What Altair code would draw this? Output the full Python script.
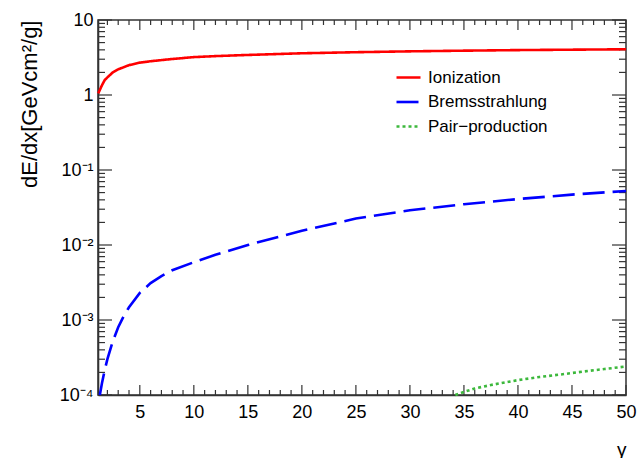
import altair as alt
import pandas as pd

# ---- data ----
ion_gamma = [1.15, 1.3, 1.5, 1.75, 2, 2.5, 3, 4, 5, 6, 8, 10, 12, 15, 20, 25, 30, 35, 40, 45, 50]
ion_value = [1.05, 1.17, 1.35, 1.58, 1.72, 2.0, 2.2, 2.5, 2.7, 2.82, 3.02, 3.2, 3.3, 3.42,
             3.6, 3.72, 3.82, 3.9, 3.97, 4.02, 4.07]

brem_gamma = [1.3, 1.5, 1.75, 2, 2.5, 3, 3.5, 4, 5, 6, 7, 8, 10, 12, 15, 20, 25, 30, 35, 40, 45, 50]
brem_value = [1.0e-4, 1.45e-4, 2.15e-4, 3.0e-4, 5.2e-4, 8.0e-4, 1.12e-3, 1.48e-3, 2.3e-3, 3.1e-3,
              3.85e-3, 4.6e-3, 5.9e-3, 7.4e-3, 1.0e-2, 1.55e-2, 2.25e-2, 2.9e-2, 3.5e-2, 4.1e-2,
              4.7e-2, 5.25e-2]

pair_gamma = [34.2, 35, 36, 37.5, 40, 42, 44, 46, 48, 50]
pair_value = [1.0e-4, 1.1e-4, 1.22e-4, 1.36e-4, 1.58e-4, 1.74e-4, 1.88e-4, 2.05e-4, 2.22e-4, 2.4e-4]

series = ["Ionization", "Bremsstrahlung", "Pair\u2212production"]
colors = ["#ff0000", "#0000ff", "#3cb83c"]
dashes = [[1, 0], [22, 8], [3, 3]]

x_major = [5, 10, 15, 20, 25, 30, 35, 40, 45, 50]
x_minor = [v for v in range(2, 50) if v % 5 != 0]
y_major = [1e-4, 1e-3, 1e-2, 1e-1, 1, 10]
y_major_labels = ["10\u207b\u2074", "10\u207b\u00b3", "10\u207b\u00b2", "10\u207b\u00b9", "1", "10"]
y_minor = [k * 10.0 ** n for n in range(-4, 1) for k in range(2, 10)]

x_title = "\u03b3"
y_title = "dE/dx[GeVcm\u00b2/g]"

# ---- tables ----
rows = []
for name, gs, vs in zip(series, [ion_gamma, brem_gamma, pair_gamma], [ion_value, brem_value, pair_value]):
    for g, v in zip(gs, vs):
        rows.append({"gamma": g, "value": v, "process": name})
df = pd.DataFrame(rows)
xmaj_df = pd.DataFrame({"t": x_major})
xmin_df = pd.DataFrame({"t": x_minor})
ymaj_df = pd.DataFrame({"t": y_major})
ymin_df = pd.DataFrame({"t": y_minor})

W, H = 528, 375
FONT = "Liberation Sans"
TICK = "#333333"

xscale = alt.Scale(domain=[1.13, 50], nice=False, zero=False)
yscale = alt.Scale(type="log", domain=[1e-4, 10], nice=False)

label_expr = " : ".join(
    f"datum.value < {v * 1.5} ? '{lab}'" for v, lab in zip(y_major[:-1], y_major_labels[:-1])
) + f" : '{y_major_labels[-1]}'"

x_axis = alt.Axis(orient="bottom", values=x_major, tickSize=0, labelPadding=8,
                  labelFontSize=18, labelFont=FONT, labelColor="black",
                  domainColor=TICK, domainWidth=1.6, grid=False,
                  title=x_title, titleFont=FONT, titleFontSize=19, titleFontWeight="normal",
                  titleAnchor="end", titleAlign="right", titleX=W, titleY=60,
                  titleBaseline="alphabetic", labelFlush=False, labelOverlap=False)
y_axis = alt.Axis(orient="left", values=y_major, tickSize=0, labelPadding=5,
                  labelExpr=label_expr,
                  labelFontSize=18, labelFont=FONT, labelColor="black",
                  domainColor=TICK, domainWidth=1.6, grid=False,
                  title=y_title, titleFont=FONT, titleFontSize=22, titleFontWeight="normal",
                  titleAngle=-90, titleAlign="right", titleBaseline="middle",
                  titleX=-69, titleY=0, labelFlush=False, labelOverlap=False)

leg = alt.Legend(title=None, orient="none", legendX=297, legendY=44,
                 symbolType="stroke", symbolSize=576, symbolStrokeWidth=2.6,
                 labelFont=FONT, labelFontSize=17, labelColor="black",
                 labelOffset=6, rowPadding=2.5, padding=0)

lines = alt.Chart(df).mark_line(strokeWidth=2.6).encode(
    x=alt.X("gamma:Q", scale=xscale, axis=x_axis),
    y=alt.Y("value:Q", scale=yscale, axis=y_axis),
    color=alt.Color("process:N", scale=alt.Scale(domain=series, range=colors), legend=leg),
    strokeDash=alt.StrokeDash("process:N", scale=alt.Scale(domain=series, range=dashes), legend=leg),
)


def yticks(data, start, end):
    return alt.Chart(data).mark_rule(color=TICK, strokeWidth=1.2).encode(
        y=alt.Y("t:Q", scale=yscale, axis=y_axis),
        x=alt.value(start), x2=alt.value(end),
    )


def xticks(data, start, end):
    return alt.Chart(data).mark_rule(color=TICK, strokeWidth=1.2).encode(
        x=alt.X("t:Q", scale=xscale, axis=x_axis),
        y=alt.value(start), y2=alt.value(end),
    )


tick_layers = [
    yticks(ymaj_df, 0, 14), yticks(ymin_df, 0, 7),
    yticks(ymaj_df, W, W - 14), yticks(ymin_df, W, W - 7),
    xticks(xmaj_df, H, H - 10), xticks(xmin_df, H, H - 5),
    xticks(xmaj_df, 0, 10), xticks(xmin_df, 0, 5),
]

chart = alt.layer(*tick_layers, lines).properties(
    width=W, height=H,
    autosize=alt.AutoSizeParams(type="none"),
    padding={"left": 98, "top": 20, "right": 13, "bottom": 63},
).configure(background="white").configure_view(stroke=TICK, strokeWidth=1.5)

chart.save("out.html", embed_options={"renderer": "svg", "actions": False})
